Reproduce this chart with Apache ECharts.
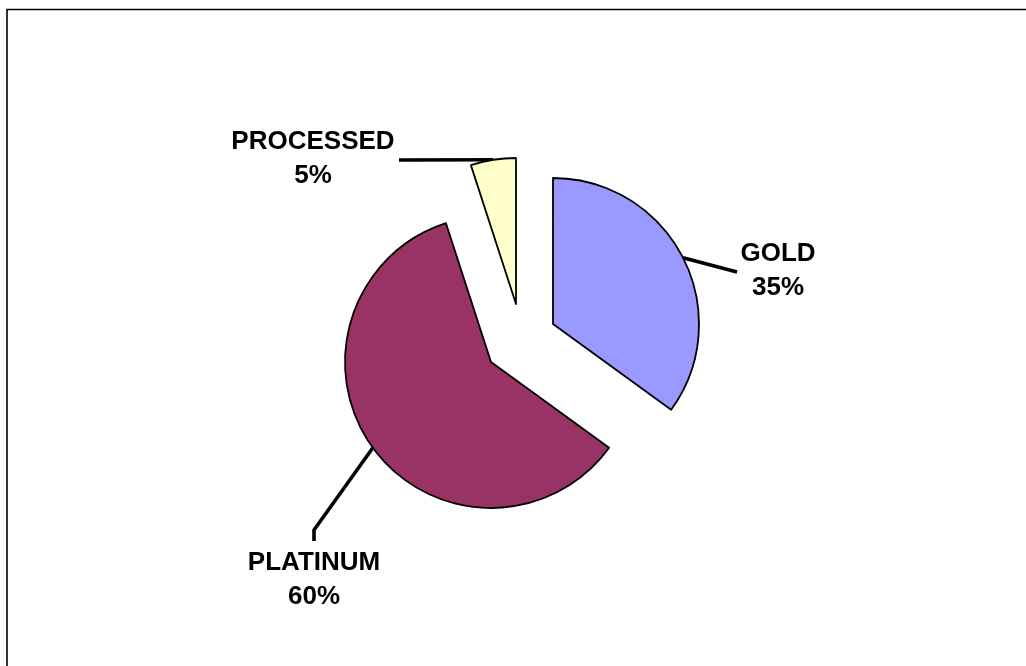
<!DOCTYPE html>
<html>
<head>
<meta charset="utf-8">
<style>
html,body{margin:0;padding:0;background:#fff;}
#chart{width:1026px;height:666px;}
</style>
<script src="https://cdn.jsdelivr.net/npm/echarts@6/dist/echarts.min.js"></script>
</head>
<body>
<div id="chart"></div>
<script>
// Data
const categories = ['GOLD', 'PLATINUM', 'PROCESSED'];
const values = [35, 60, 5];
const colors = ['#9999FF', '#993366', '#FFFFCC'];

// Layout (exploded slice centres, label placements)
const sliceCenters = [[553, 324], [491, 362], [516, 304]];
const labelPos = [
  { x: 778, y: 271, line: (p0) => [p0, [737, 272], [737, 272]] },
  { x: 314, y: 580, line: (p0) => [p0, [314, 530], [314, 541]] },
  { x: 313, y: 159, line: (p0) => [p0, [399, 160], [399, 160]] }
];
const R = 146;

const chart = echarts.init(document.getElementById('chart'), null, { renderer: 'canvas' });

const series = categories.map((name, si) => ({
  type: 'pie',
  center: sliceCenters[si],
  radius: [0, R],
  startAngle: 90,
  clockwise: true,
  silent: true,
  animation: false,
  avoidLabelOverlap: false,
  percentPrecision: 0,
  data: categories.map((c, i) => {
    const visible = i === si;
    return {
      name: c,
      value: values[i],
      itemStyle: visible
        ? { color: colors[i], borderColor: '#000', borderWidth: 1.8 }
        : { color: 'rgba(0,0,0,0)', borderWidth: 0 },
      label: { show: visible },
      labelLine: { show: visible }
    };
  }),
  label: {
    position: 'outside',
    formatter: '{b}\n{d}%',
    fontFamily: 'Liberation Sans, Arial, sans-serif',
    fontWeight: 'bold',
    fontSize: 26,
    lineHeight: 34,
    color: '#000',
    align: 'center'
  },
  labelLine: {
    length: 10,
    length2: 10,
    smooth: false,
    lineStyle: { color: '#000', width: 3.6 }
  },
  labelLayout: function (params) {
    const lp = labelPos[si];
    const p0 = params.labelLinePoints ? params.labelLinePoints[0] : [0, 0];
    return {
      x: lp.x,
      y: lp.y,
      align: 'center',
      verticalAlign: 'middle',
      labelLinePoints: lp.line(p0)
    };
  }
}));

chart.setOption({
  backgroundColor: '#fff',
  animation: false,
  graphic: [{
    type: 'rect',
    shape: { x: 7, y: 9.5, width: 1100, height: 700 },
    style: { fill: 'none', stroke: '#000', lineWidth: 1.6 },
    silent: true
  }],
  series: series
});
</script>
</body>
</html>
